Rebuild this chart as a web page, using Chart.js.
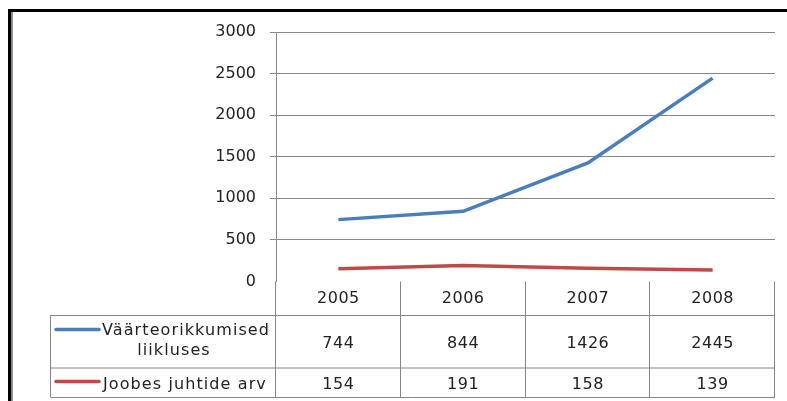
<!DOCTYPE html>
<html>
<head>
<meta charset="utf-8">
<script src="https://cdn.jsdelivr.net/npm/chart.js@4/dist/chart.umd.min.js"></script>
<style>
  html, body { margin: 0; padding: 0; background: #fff; }
  #wrap { width: 787px; height: 401px; position: relative; }
</style>
</head>
<body>
<div id="wrap"><canvas id="myChart"></canvas></div>
<script>
var years = ["2005", "2006", "2007", "2008"];
var violations = [744, 844, 1426, 2445];
var drunkDrivers = [154, 191, 158, 139];
var seriesNames = [["Väärteorikkumised", "liikluses"], ["Joobes juhtide arv"]];
var yTicks = [0, 500, 1000, 1500, 2000, 2500, 3000];

var blue = "#4a7ebb";
var red = "#be4b48";
var gridGray = "#868686";
var textColor = "#222";
var font = "16px 'DejaVu Sans'";

// black frame round the sheet, with the grey shadow on its left side
var framePlugin = {
  id: "frame",
  beforeDraw(chart) {
    const ctx = chart.ctx;
    ctx.save();
    ctx.fillStyle = "#fff";
    ctx.fillRect(0, 0, chart.width, chart.height);
    ctx.fillStyle = "#000";
    ctx.fillRect(8, 9, chart.width - 8, 3);
    ctx.fillRect(8, 9, 3, chart.height - 9);
    ctx.fillStyle = "#8a8a8a";
    ctx.fillRect(11, 12, 2, chart.height - 12);
    ctx.restore();
  }
};

// data table under the plot, one column per category
var tablePlugin = {
  id: "dataTable",
  afterDraw(chart) {
    const ctx = chart.ctx;
    const area = chart.chartArea;
    const xs = chart.scales.x;
    const colW = (area.right - area.left) / years.length;
    const top = area.bottom;
    const headBottom = 315;
    const row1Bottom = 367.5;
    const row2Bottom = 397;
    const labelLeft = 50.5;

    ctx.save();
    ctx.strokeStyle = gridGray;
    ctx.lineWidth = 1;
    ctx.beginPath();
    // column dividers
    for (let i = 0; i <= years.length; i++) {
      const x = Math.round(area.left + i * colW) - 0.5;
      ctx.moveTo(x, top);
      ctx.lineTo(x, row2Bottom);
    }
    // row lines
    [headBottom, row1Bottom, row2Bottom].forEach(function (y) {
      ctx.moveTo(labelLeft, y + 0.5);
      ctx.lineTo(area.right, y + 0.5);
    });
    ctx.moveTo(labelLeft, headBottom);
    ctx.lineTo(labelLeft, row2Bottom);
    ctx.stroke();

    ctx.fillStyle = textColor;
    ctx.font = font;
    ctx.textAlign = "center";
    ctx.textBaseline = "alphabetic";
    ctx.letterSpacing = "0.5px";
    years.forEach(function (yr, i) {
      const cx = xs.getPixelForValue(i);
      ctx.fillText(yr, cx, 303);
      ctx.fillText(String(violations[i]), cx, 348);
      ctx.fillText(String(drunkDrivers[i]), cx, 388.5);
    });

    // legend keys and series names
    ctx.lineWidth = 3.5;
    ctx.lineCap = "round";
    ctx.strokeStyle = blue;
    ctx.beginPath();
    ctx.moveTo(56, 329.5);
    ctx.lineTo(99, 329.5);
    ctx.stroke();
    ctx.strokeStyle = red;
    ctx.beginPath();
    ctx.moveTo(56, 381.5);
    ctx.lineTo(99, 381.5);
    ctx.stroke();

    ctx.letterSpacing = "1.1px";
    ctx.textAlign = "left";
    ctx.fillText(seriesNames[0][0], 102, 335);
    ctx.textAlign = "center";
    ctx.fillText(seriesNames[0][1], 174, 355);
    ctx.textAlign = "left";
    ctx.fillText(seriesNames[1][0], 103, 389);
    ctx.restore();
  }
};

new Chart("myChart", {
  type: "line",
  data: {
    labels: years,
    datasets: [
      {
        label: seriesNames[0].join(" "),
        data: violations,
        borderColor: blue,
        borderWidth: 3.5,
        pointRadius: 0,
        tension: 0
      },
      {
        label: seriesNames[1][0],
        data: drunkDrivers,
        borderColor: red,
        borderWidth: 3.5,
        pointRadius: 0,
        tension: 0
      }
    ]
  },
  options: {
    responsive: true,
    maintainAspectRatio: false,
    animation: false,
    devicePixelRatio: 1,
    layout: {
      padding: { left: 0, right: 12, top: 32, bottom: 119.5 }
    },
    plugins: {
      legend: { display: false },
      tooltip: { enabled: false }
    },
    scales: {
      x: {
        display: false,
        offset: true
      },
      y: {
        min: 0,
        max: 3000,
        afterFit: function (scale) { scale.width = 276; },
        afterBuildTicks: function (scale) {
          scale.ticks = yTicks.map(function (v) { return { value: v }; });
        },
        grid: {
          color: function (c) { return c.tick && c.tick.value === 0 ? "rgba(0,0,0,0)" : gridGray; },
          tickLength: 6,
          lineWidth: 1
        },
        border: { display: true, color: gridGray },
        ticks: {
          padding: 14,
          color: textColor,
          font: { family: "'DejaVu Sans'", size: 16 },
          callback: function (value) { return String(value); }
        }
      }
    }
  },
  plugins: [framePlugin, tablePlugin]
});
</script>
</body>
</html>
